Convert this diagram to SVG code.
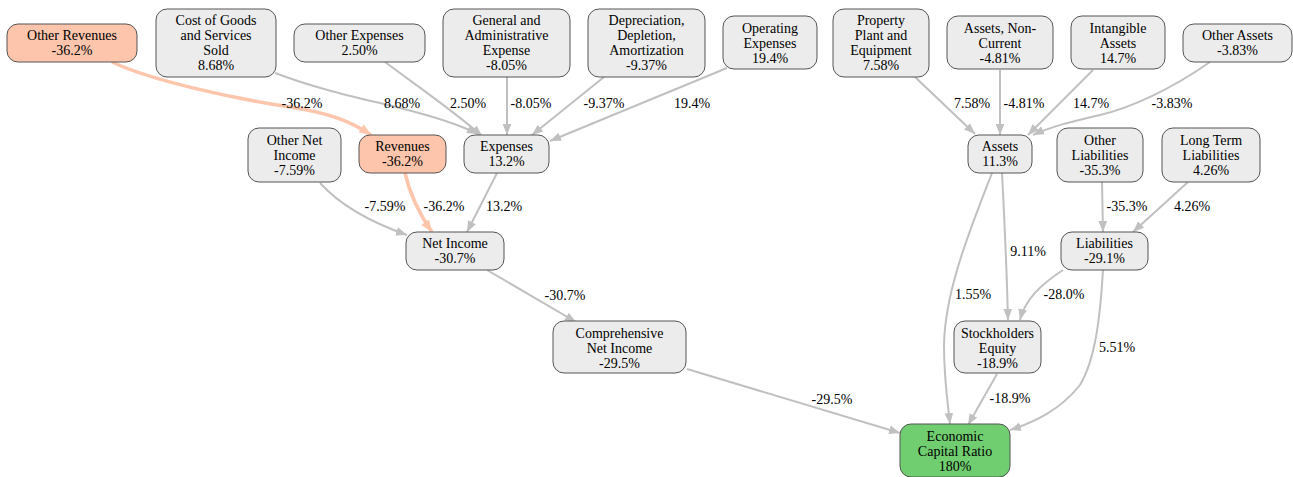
<svg xmlns="http://www.w3.org/2000/svg" width="1293" height="477" viewBox="0 0 1293 477" font-family="Liberation Serif, DejaVu Serif, Times New Roman, serif">
<style>
text{font-family:'Liberation Serif','DejaVu Serif','Times New Roman',Times,serif;font-size:14px;fill:#000;text-anchor:middle}
.n rect{fill:#ececec;stroke:#555;stroke-width:1}
.n.s rect{fill:#fdc5ab}
.n.g rect{fill:#70cd70}
.e path{fill:none;stroke:#c0c0c0;stroke-width:2;marker-end:url(#ag)}
.e path.h{stroke:#fdc5ab;stroke-width:3.5;marker-end:url(#as)}
</style>
<defs>
<marker id="ag" viewBox="0 0 10 10" refX="10" refY="5" markerWidth="11" markerHeight="11" markerUnits="userSpaceOnUse" orient="auto"><path d="M0,1 L10,5 L0,9 z" fill="#c0c0c0"/></marker>
<marker id="as" viewBox="0 0 10 10" refX="10" refY="5" markerWidth="12" markerHeight="12" markerUnits="userSpaceOnUse" orient="auto"><path d="M0,1 L10,5 L0,9 z" fill="#fdc5ab"/></marker>
</defs>
<rect width="1293" height="477" fill="#fff"/>
<g id="edges" class="e">
<path class="h" d="M112,62 C150,80 230,98 290,107 C330,113 352,122 371,135"/>
<path d="M275,73 C320,90 360,98 400,108 C440,118 460,125 478,134"/>
<path d="M385,62 C420,88 455,112 482,136"/>
<path d="M507,77 L507,135"/>
<path d="M604,77 L532,135"/>
<path d="M727,68 L550,141"/>
<path d="M320,183 C340,205 370,222 407,235"/>
<path class="h" d="M405,173 C410,195 420,215 432,232"/>
<path d="M497,173 L467,232"/>
<path d="M487,270 L576,322"/>
<path d="M687,369 L900,433"/>
<path d="M915,77 L975,134"/>
<path d="M1000,70 L1000,135"/>
<path d="M1093,70 L1028,135"/>
<path d="M1210,62 C1170,90 1130,108 1100,115 C1070,122 1050,127 1033,135"/>
<path d="M992,173 C970,230 945,290 944,345 C944,380 948,405 950,424"/>
<path d="M1002,173 C1005,230 1007,280 1008,320"/>
<path d="M1102,182 L1103,232"/>
<path d="M1188,182 L1133,232"/>
<path d="M1063,270 C1040,285 1025,300 1020,320"/>
<path d="M1103,270 C1100,320 1095,360 1080,385 C1060,410 1035,422 1010,430"/>
<path d="M997,374 L968,425"/>
</g>
<g id="edge-labels">
<text x="302" y="108">-36.2%</text>
<text x="402" y="108">8.68%</text>
<text x="468" y="108">2.50%</text>
<text x="531" y="108">-8.05%</text>
<text x="604" y="108">-9.37%</text>
<text x="692" y="108">19.4%</text>
<text x="972" y="108">7.58%</text>
<text x="1024" y="108">-4.81%</text>
<text x="1091" y="108">14.7%</text>
<text x="1172" y="108">-3.83%</text>
<text x="385" y="211">-7.59%</text>
<text x="444" y="211">-36.2%</text>
<text x="504" y="211">13.2%</text>
<text x="1127" y="211">-35.3%</text>
<text x="1192" y="211">4.26%</text>
<text x="1028" y="256">9.11%</text>
<text x="565" y="300">-30.7%</text>
<text x="973" y="299">1.55%</text>
<text x="1064" y="299">-28.0%</text>
<text x="1117" y="352">5.51%</text>
<text x="832" y="404">-29.5%</text>
<text x="1010" y="403">-18.9%</text>
</g>
<g id="other-revenues" class="n s"><rect x="7" y="24" width="130" height="38" rx="11"/><text x="72" y="40">Other Revenues</text><text x="72" y="55">-36.2%</text></g>
<g id="cogs" class="n"><rect x="156" y="9" width="120" height="68" rx="11"/><text x="216" y="25">Cost of Goods</text><text x="216" y="40">and Services</text><text x="216" y="55">Sold</text><text x="216" y="70">8.68%</text></g>
<g id="other-expenses" class="n"><rect x="294" y="24" width="131" height="38" rx="11"/><text x="359.5" y="40">Other Expenses</text><text x="359.5" y="55">2.50%</text></g>
<g id="gae" class="n"><rect x="443" y="9" width="127" height="68" rx="11"/><text x="506.5" y="25">General and</text><text x="506.5" y="40">Administrative</text><text x="506.5" y="55">Expense</text><text x="506.5" y="70">-8.05%</text></g>
<g id="dda" class="n"><rect x="588" y="9" width="117" height="68" rx="11"/><text x="646.5" y="25">Depreciation,</text><text x="646.5" y="40">Depletion,</text><text x="646.5" y="55">Amortization</text><text x="646.5" y="70">-9.37%</text></g>
<g id="operating-expenses" class="n"><rect x="723" y="16" width="94" height="53" rx="11"/><text x="770" y="32.5">Operating</text><text x="770" y="47.5">Expenses</text><text x="770" y="62.5">19.4%</text></g>
<g id="ppe" class="n"><rect x="833" y="9" width="96" height="68" rx="11"/><text x="881" y="25">Property</text><text x="881" y="40">Plant and</text><text x="881" y="55">Equipment</text><text x="881" y="70">7.58%</text></g>
<g id="assets-noncurrent" class="n"><rect x="947" y="16" width="106" height="53" rx="11"/><text x="1000" y="32.5">Assets, Non-</text><text x="1000" y="47.5">Current</text><text x="1000" y="62.5">-4.81%</text></g>
<g id="intangible-assets" class="n"><rect x="1071" y="16" width="94" height="53" rx="11"/><text x="1118" y="32.5">Intangible</text><text x="1118" y="47.5">Assets</text><text x="1118" y="62.5">14.7%</text></g>
<g id="other-assets" class="n"><rect x="1183" y="24" width="109" height="38" rx="11"/><text x="1237.5" y="40">Other Assets</text><text x="1237.5" y="55">-3.83%</text></g>
<g id="other-net-income" class="n"><rect x="248" y="128" width="93" height="54" rx="11"/><text x="294.5" y="145">Other Net</text><text x="294.5" y="160">Income</text><text x="294.5" y="175">-7.59%</text></g>
<g id="revenues" class="n s"><rect x="359" y="135" width="87" height="38" rx="11"/><text x="402.5" y="151">Revenues</text><text x="402.5" y="166">-36.2%</text></g>
<g id="expenses" class="n"><rect x="464" y="135" width="85" height="38" rx="11"/><text x="506.5" y="151">Expenses</text><text x="506.5" y="166">13.2%</text></g>
<g id="assets" class="n"><rect x="968" y="135" width="64" height="38" rx="11"/><text x="1000" y="151">Assets</text><text x="1000" y="166">11.3%</text></g>
<g id="other-liabilities" class="n"><rect x="1057" y="128" width="86" height="54" rx="11"/><text x="1100" y="145">Other</text><text x="1100" y="160">Liabilities</text><text x="1100" y="175">-35.3%</text></g>
<g id="long-term-liabilities" class="n"><rect x="1162" y="128" width="98" height="54" rx="11"/><text x="1211" y="145">Long Term</text><text x="1211" y="160">Liabilities</text><text x="1211" y="175">4.26%</text></g>
<g id="net-income" class="n"><rect x="406" y="232" width="98" height="38" rx="11"/><text x="455" y="248">Net Income</text><text x="455" y="263">-30.7%</text></g>
<g id="liabilities" class="n"><rect x="1061" y="232" width="87" height="38" rx="11"/><text x="1104.5" y="248">Liabilities</text><text x="1104.5" y="263">-29.1%</text></g>
<g id="comprehensive-net-income" class="n"><rect x="553" y="321" width="133" height="52" rx="11"/><text x="619.5" y="337.5">Comprehensive</text><text x="619.5" y="352.5">Net Income</text><text x="619.5" y="367.5">-29.5%</text></g>
<g id="stockholders-equity" class="n"><rect x="954" y="321" width="87" height="52" rx="11"/><text x="997.5" y="337.5">Stockholders</text><text x="997.5" y="352.5">Equity</text><text x="997.5" y="367.5">-18.9%</text></g>
<g id="economic-capital-ratio" class="n g"><rect x="900" y="424" width="110" height="53" rx="11"/><text x="955" y="440.5">Economic</text><text x="955" y="455.5">Capital Ratio</text><text x="955" y="470.5">180%</text></g>
</svg>
